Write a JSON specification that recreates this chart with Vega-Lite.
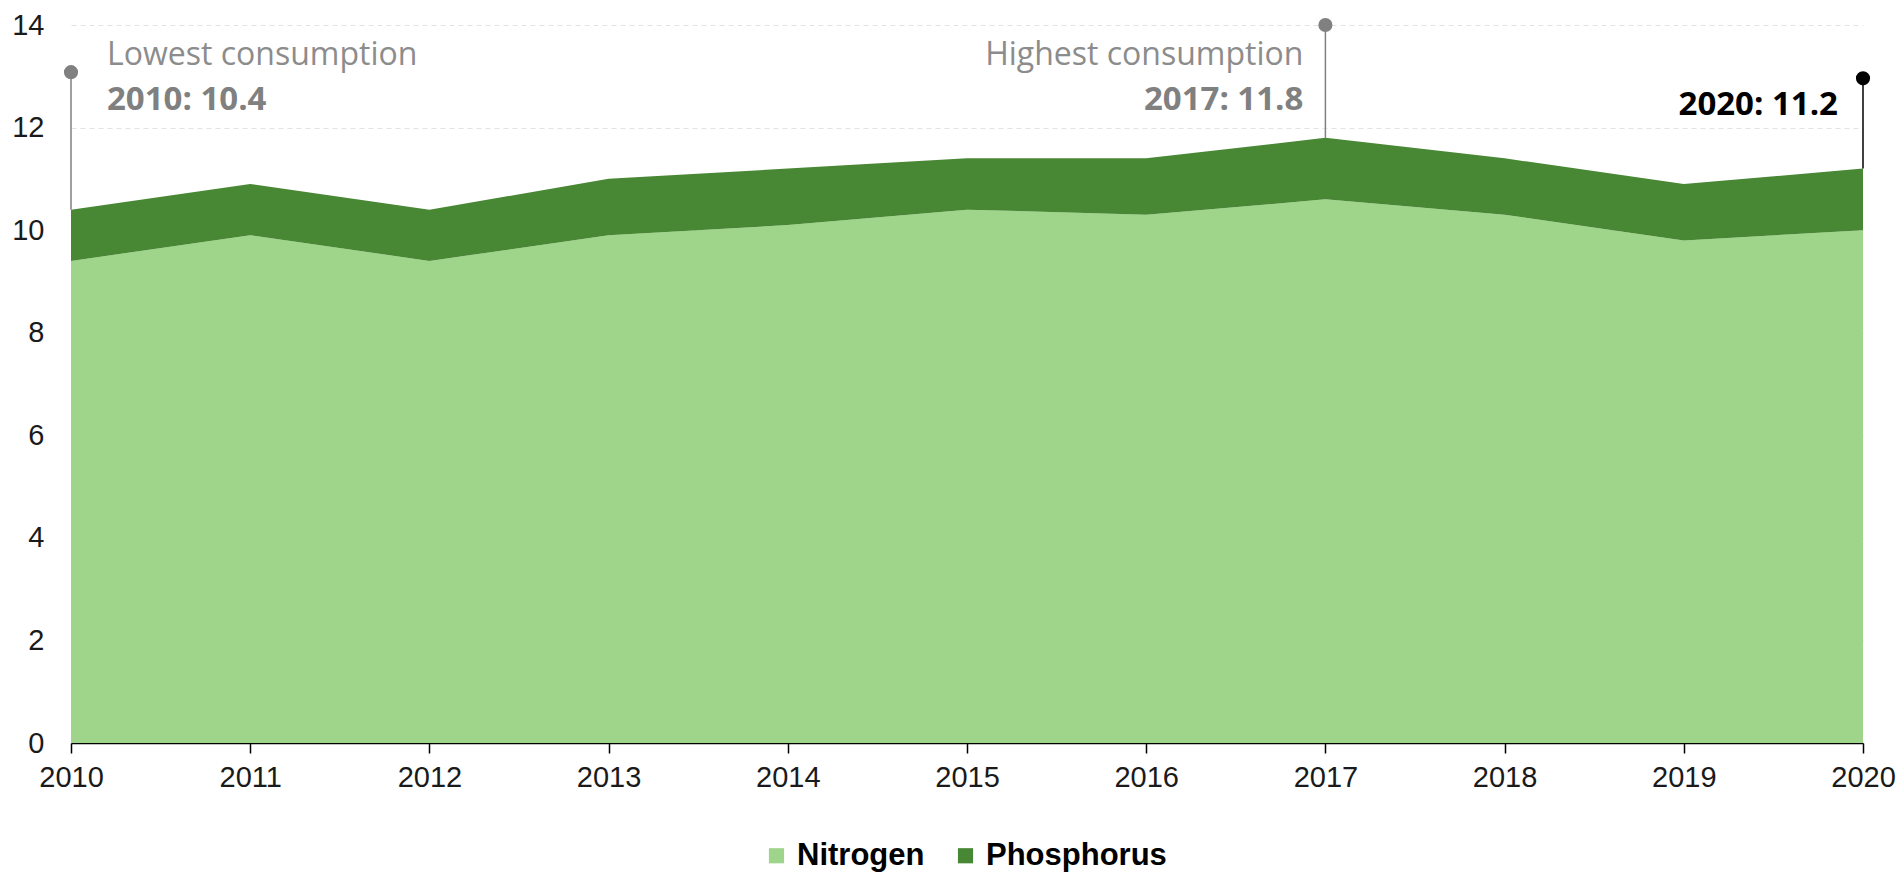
{
  "$schema": "https://vega.github.io/schema/vega-lite/v6.json",
  "autosize": "none",
  "width": 1792,
  "height": 718,
  "padding": {"left": 71, "top": 25, "right": 40, "bottom": 132},
  "background": "white",
  "config": {
    "view": {"stroke": null},
    "axis": {"labelFont": "Liberation Sans", "labelColor": "#1a1a1a", "labelFontSize": 29}
  },
  "datasets": {
    "series": [
      {"year": 2010, "nutrient": "Nitrogen", "value": 9.4},
      {"year": 2011, "nutrient": "Nitrogen", "value": 9.9},
      {"year": 2012, "nutrient": "Nitrogen", "value": 9.4},
      {"year": 2013, "nutrient": "Nitrogen", "value": 9.9},
      {"year": 2014, "nutrient": "Nitrogen", "value": 10.1},
      {"year": 2015, "nutrient": "Nitrogen", "value": 10.4},
      {"year": 2016, "nutrient": "Nitrogen", "value": 10.3},
      {"year": 2017, "nutrient": "Nitrogen", "value": 10.6},
      {"year": 2018, "nutrient": "Nitrogen", "value": 10.3},
      {"year": 2019, "nutrient": "Nitrogen", "value": 9.8},
      {"year": 2020, "nutrient": "Nitrogen", "value": 10.0},
      {"year": 2010, "nutrient": "Phosphorus", "value": 1.0},
      {"year": 2011, "nutrient": "Phosphorus", "value": 1.0},
      {"year": 2012, "nutrient": "Phosphorus", "value": 1.0},
      {"year": 2013, "nutrient": "Phosphorus", "value": 1.1},
      {"year": 2014, "nutrient": "Phosphorus", "value": 1.1},
      {"year": 2015, "nutrient": "Phosphorus", "value": 1.0},
      {"year": 2016, "nutrient": "Phosphorus", "value": 1.1},
      {"year": 2017, "nutrient": "Phosphorus", "value": 1.2},
      {"year": 2018, "nutrient": "Phosphorus", "value": 1.1},
      {"year": 2019, "nutrient": "Phosphorus", "value": 1.1},
      {"year": 2020, "nutrient": "Phosphorus", "value": 1.2}
    ],
    "annot": [
      {"year": 2010, "total": 10.4, "top": 13.08, "kind": "low", "title": "Lowest consumption", "label": "2010: 10.4"},
      {"year": 2017, "total": 11.8, "top": 14.0, "kind": "high", "title": "Highest consumption", "label": "2017: 11.8"},
      {"year": 2020, "total": 11.2, "top": 12.96, "kind": "latest", "title": "", "label": "2020: 11.2"}
    ]
  },
  "layer": [
    {
      "data": {"name": "series"},
      "mark": {"type": "area", "opacity": 1},
      "encoding": {
        "x": {
          "field": "year", "type": "quantitative",
          "scale": {"domain": [2010, 2020], "nice": false, "zero": false},
          "axis": {
            "title": null, "values": [2010, 2011, 2012, 2013, 2014, 2015, 2016, 2017, 2018, 2019, 2020],
            "format": "d", "grid": false, "domainColor": "#000000", "domainWidth": 1.5,
            "tickColor": "#000000", "tickWidth": 1.5, "tickSize": 10, "labelPadding": 10,
            "labelFlush": false
          }
        },
        "y": {
          "field": "value", "type": "quantitative", "stack": "zero",
          "scale": {"domain": [0, 14], "nice": false},
          "axis": {
            "title": null, "values": [0, 2, 4, 6, 8, 10, 12, 14], "domain": false, "ticks": false,
            "grid": true, "gridColor": "#e3e3e3", "gridDash": [5, 4], "gridWidth": 1,
            "labelPadding": 27
          }
        },
        "color": {
          "field": "nutrient", "type": "nominal",
          "scale": {"domain": ["Nitrogen", "Phosphorus"], "range": ["#9fd58b", "#488733"]},
          "legend": {
            "title": null, "orient": "none", "legendX": 690, "legendY": 815, "direction": "horizontal",
            "symbolType": "square", "symbolSize": 230, "symbolStrokeWidth": 0,
            "labelFont": "Liberation Sans", "labelFontWeight": "bold", "labelFontSize": 31,
            "labelColor": "#000000", "labelLimit": 0, "columnPadding": 25, "symbolOffset": 0, "labelOffset": 5
          }
        },
        "order": {"field": "nutrient", "sort": "ascending"}
      }
    },
    {
      "data": {"name": "annot"},
      "transform": [{"filter": "datum.kind !== 'latest'"}],
      "mark": {"type": "rule", "color": "#808080", "strokeWidth": 1.5},
      "encoding": {
        "x": {"field": "year", "type": "quantitative"},
        "y": {"field": "total", "type": "quantitative"},
        "y2": {"field": "top"}
      }
    },
    {
      "data": {"name": "annot"},
      "transform": [{"filter": "datum.kind === 'latest'"}],
      "mark": {"type": "rule", "color": "#000000", "strokeWidth": 1.5},
      "encoding": {
        "x": {"field": "year", "type": "quantitative"},
        "y": {"field": "total", "type": "quantitative"},
        "y2": {"field": "top"}
      }
    },
    {
      "data": {"name": "annot"},
      "transform": [{"filter": "datum.kind !== 'latest'"}],
      "mark": {"type": "point", "filled": true, "shape": "circle", "size": 200, "color": "#808080", "opacity": 1},
      "encoding": {
        "x": {"field": "year", "type": "quantitative"},
        "y": {"field": "top", "type": "quantitative"}
      }
    },
    {
      "data": {"name": "annot"},
      "transform": [{"filter": "datum.kind === 'latest'"}],
      "mark": {"type": "point", "filled": true, "shape": "circle", "size": 200, "color": "#000000", "opacity": 1},
      "encoding": {
        "x": {"field": "year", "type": "quantitative"},
        "y": {"field": "top", "type": "quantitative"}
      }
    },
    {
      "data": {"name": "annot"},
      "transform": [{"filter": "datum.kind === 'low'"}],
      "mark": {"type": "text", "align": "left", "baseline": "alphabetic", "dx": 36, "dy": -7, "font": "Open Sans", "fontSize": 32, "color": "#8c8c8c"},
      "encoding": {
        "x": {"field": "year", "type": "quantitative"},
        "y": {"field": "top", "type": "quantitative"},
        "text": {"field": "title"}
      }
    },
    {
      "data": {"name": "annot"},
      "transform": [{"filter": "datum.kind === 'low'"}],
      "mark": {"type": "text", "align": "left", "baseline": "alphabetic", "dx": 36, "dy": 38, "font": "Open Sans", "fontWeight": "bold", "fontSize": 33, "color": "#808080"},
      "encoding": {
        "x": {"field": "year", "type": "quantitative"},
        "y": {"field": "top", "type": "quantitative"},
        "text": {"field": "label"}
      }
    },
    {
      "data": {"name": "annot"},
      "transform": [{"filter": "datum.kind === 'high'"}],
      "mark": {"type": "text", "align": "right", "baseline": "alphabetic", "dx": -22, "dy": 40, "font": "Open Sans", "fontSize": 32, "color": "#8c8c8c"},
      "encoding": {
        "x": {"field": "year", "type": "quantitative"},
        "y": {"field": "top", "type": "quantitative"},
        "text": {"field": "title"}
      }
    },
    {
      "data": {"name": "annot"},
      "transform": [{"filter": "datum.kind === 'high'"}],
      "mark": {"type": "text", "align": "right", "baseline": "alphabetic", "dx": -22, "dy": 85, "font": "Open Sans", "fontWeight": "bold", "fontSize": 33, "color": "#808080"},
      "encoding": {
        "x": {"field": "year", "type": "quantitative"},
        "y": {"field": "top", "type": "quantitative"},
        "text": {"field": "label"}
      }
    },
    {
      "data": {"name": "annot"},
      "transform": [{"filter": "datum.kind === 'latest'"}],
      "mark": {"type": "text", "align": "right", "baseline": "alphabetic", "dx": -25, "dy": 37, "font": "Open Sans", "fontWeight": "bold", "fontSize": 33, "color": "#000000"},
      "encoding": {
        "x": {"field": "year", "type": "quantitative"},
        "y": {"field": "top", "type": "quantitative"},
        "text": {"field": "label"}
      }
    }
  ]
}
